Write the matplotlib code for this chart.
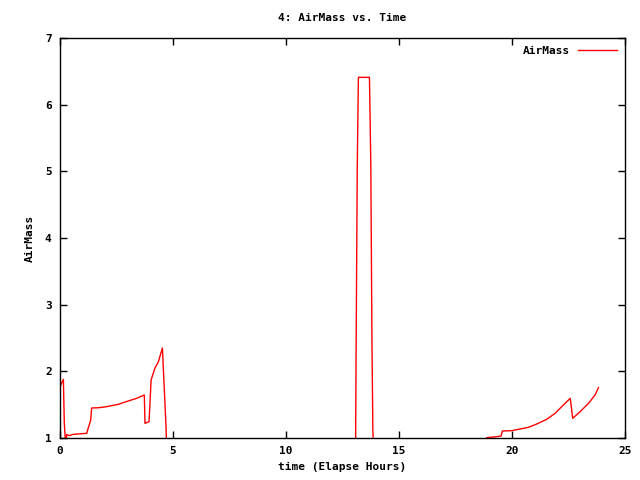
import numpy as np
import matplotlib.pyplot as plt

# elapsed time (hours) and air mass
time = [0.0, 0.15, 0.19, 0.25, 0.30, 0.40, 0.59, 1.18, 1.25, 1.36, 1.40, 1.74,
        2.06, 2.58, 3.02, 3.39, 3.73, 3.76, 3.94, 4.03, 4.20, 4.35, 4.53, 4.69,
        4.75, 13.07, 13.10, 13.15, 13.20, 13.69, 13.75, 13.80, 13.84, 13.90,
        18.80, 18.88, 19.32, 19.51, 19.57, 19.98, 20.35, 20.72, 21.09, 21.53,
        21.90, 22.27, 22.57, 22.60, 22.68, 23.01, 23.38, 23.67, 23.82]
airmass = [1.77, 1.88, 1.22, 0.9, 1.055, 1.035, 1.055, 1.07, 1.15, 1.27, 1.45, 1.455,
           1.47, 1.505, 1.555, 1.595, 1.645, 1.22, 1.245, 1.87, 2.05, 2.14, 2.35, 1.17,
           0.5, 0.5, 2.35, 5.06, 6.41, 6.41, 5.1, 2.47, 1.13, 0.5,
           0.5, 1.005, 1.02, 1.03, 1.105, 1.11, 1.135, 1.16, 1.21, 1.28,
           1.37, 1.495, 1.595, 1.52, 1.295, 1.395, 1.52, 1.645, 1.755]

font = {'family': 'DejaVu Sans Mono', 'weight': 'bold', 'size': 8}

fig = plt.figure(figsize=(6.4, 4.8), dpi=100)
ax = fig.add_axes([0.09375, 0.0875, 0.883, 0.8333])
ax.plot(time, airmass, color='red', lw=1.0, label='AirMass')
ax.set_xlim(0, 25)
ax.set_ylim(1, 7)
ax.set_xticks(range(0, 26, 5))
ax.set_yticks(range(1, 8))
ax.tick_params(direction='in', top=True, right=True, length=5, width=1, pad=6)
for lab in ax.get_xticklabels() + ax.get_yticklabels():
    lab.set_fontproperties(font)
for s in ax.spines.values():
    s.set_linewidth(1)
ax.set_title('4: AirMass vs. Time', fontdict=font, pad=12)
ax.set_xlabel('time (Elapse Hours)', fontdict=font)
ax.set_ylabel('AirMass', fontdict=font, labelpad=7)
ax.legend(loc='upper right', frameon=False, markerfirst=False, prop=font,
          handlelength=3.5, borderaxespad=0.3)
fig.savefig('out.png')
